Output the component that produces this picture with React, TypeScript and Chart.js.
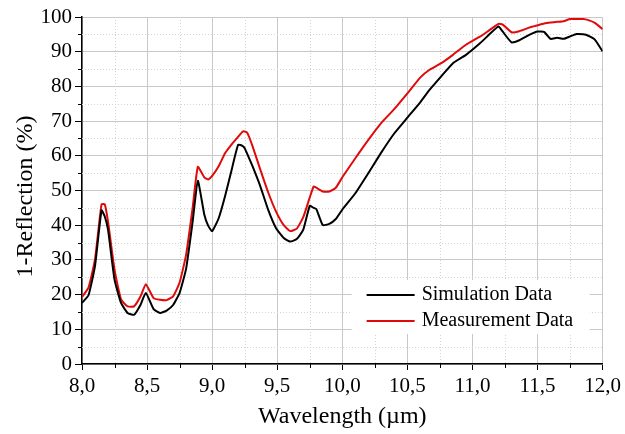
import React, { useEffect, useRef } from "react";
import { Chart, registerables } from "chart.js";

Chart.register(...registerables);

const wavelength = [
  8.0, 8.05, 8.1, 8.15, 8.175, 8.2, 8.25, 8.3, 8.35, 8.4, 8.45, 8.49, 8.55, 8.6, 8.65, 8.7, 8.75, 8.8, 8.85,
  8.89, 8.94, 8.97, 9.0, 9.05, 9.1, 9.15, 9.2, 9.235, 9.25, 9.27, 9.31, 9.37, 9.43, 9.49, 9.55, 9.6, 9.65,
  9.7, 9.75, 9.78, 9.8, 9.85, 9.9, 9.95, 10.0, 10.1, 10.2, 10.3, 10.4, 10.5, 10.6, 10.67, 10.76, 10.85,
  10.95, 11.06, 11.13, 11.2, 11.23, 11.3, 11.36, 11.44, 11.5, 11.55, 11.6, 11.65, 11.7, 11.75, 11.8, 11.85,
  11.89, 11.94, 12.0,
];

const simulation = [
  17.6, 19.8, 28.3, 44.3, 42.5, 38.7, 24.3, 17.6, 14.7, 14.2, 17.1, 20.5, 15.8, 14.7, 15.4, 17.0, 20.5, 27.5, 41.0,
  52.8, 43.0, 39.8, 38.3, 42.0, 48.5, 56.0, 63.2, 62.8, 62.2, 60.5, 57.0, 51.2, 44.5, 39.2, 36.3, 35.3, 36.0,
  38.7, 45.6, 45.0, 44.7, 40.0, 40.4, 41.8, 44.5, 49.2, 55.0, 61.0, 66.5, 71.0, 75.5, 79.0, 82.9, 86.7,
  89.1, 92.5, 95.0, 97.3, 95.9, 92.7, 93.3, 94.9, 95.8, 95.7, 93.7, 94.0, 93.7, 94.4, 95.1, 95.0,
  94.6, 93.5, 90.1,
];

const measurement = [
  19.3, 22.0, 30.2, 46.0, 46.0, 41.0, 27.2, 18.6, 16.6, 16.6, 19.5, 23.0, 19.0, 18.5, 18.4, 19.5, 23.5, 31.5, 45.0,
  56.8, 53.8, 53.2, 54.2, 57.0, 60.8, 63.3, 65.5, 67.0, 67.0, 66.6, 62.8, 56.0, 49.5, 44.0, 40.0, 38.3, 39.0,
  42.3, 48.0, 51.2, 50.8, 49.7, 49.7, 50.8, 53.8, 59.3, 64.6, 69.5, 73.5, 78.0, 82.6, 84.8, 86.7, 89.1,
  92.0, 94.4, 96.2, 98.0, 97.9, 95.6, 95.9, 97.0, 97.6, 98.1, 98.4, 98.6, 98.8, 99.4, 99.4, 99.4,
  99.1, 98.3, 96.5,
];

const seriesNames = ["Simulation Data", "Measurement Data"];
const seriesColors = ["#000000", "#e00a0a"];

const xMajorTicks = [8.0, 8.5, 9.0, 9.5, 10.0, 10.5, 11.0, 11.5, 12.0];
const xMinorTicks = [8.25, 8.75, 9.25, 9.75, 10.25, 10.75, 11.25, 11.75];
const yMinorTicks = [5, 15, 25, 35, 45, 55, 65, 75, 85, 95];

const FONT = "'Liberation Serif', 'Times New Roman', serif";

const minorPlugin = {
  id: "minorGrid",
  beforeDatasetsDraw(chart: any) {
    const { ctx, chartArea, scales } = chart;
    const xs = scales.x;
    const ys = scales.y;
    ctx.save();
    ctx.strokeStyle = "#d4d4d4";
    ctx.lineWidth = 1;
    ctx.setLineDash([1, 2]);
    for (const v of xMinorTicks) {
      const px = Math.round(xs.getPixelForValue(v)) + 0.5;
      ctx.beginPath();
      ctx.moveTo(px, chartArea.top);
      ctx.lineTo(px, chartArea.bottom);
      ctx.stroke();
    }
    for (const v of yMinorTicks) {
      const py = Math.round(ys.getPixelForValue(v)) + 0.5;
      ctx.beginPath();
      ctx.moveTo(chartArea.left, py);
      ctx.lineTo(chartArea.right, py);
      ctx.stroke();
    }
    ctx.setLineDash([]);
    ctx.strokeStyle = "#000";
    ctx.lineWidth = 1;
    for (const v of xMinorTicks) {
      const px = Math.round(xs.getPixelForValue(v)) + 0.5;
      ctx.beginPath();
      ctx.moveTo(px, chartArea.bottom);
      ctx.lineTo(px, chartArea.bottom + 4);
      ctx.stroke();
    }
    for (const v of yMinorTicks) {
      const py = Math.round(ys.getPixelForValue(v)) + 0.5;
      ctx.beginPath();
      ctx.moveTo(chartArea.left, py);
      ctx.lineTo(chartArea.left - 4, py);
      ctx.stroke();
    }
    ctx.restore();
  },
  afterDatasetsDraw(chart: any) {
    const { ctx, chartArea } = chart;
    const boxRight = chartArea.right - 13;
    const boxLeft = boxRight - 238;
    const boxBottom = chartArea.bottom - 30;
    const boxTop = boxBottom - 54;
    ctx.save();
    ctx.fillStyle = "#ffffff";
    ctx.fillRect(boxLeft, boxTop, boxRight - boxLeft, boxBottom - boxTop);
    ctx.font = `20px ${FONT}`;
    ctx.textBaseline = "middle";
    ctx.textAlign = "left";
    seriesNames.forEach((name, i) => {
      const y = boxTop + 15 + i * 26;
      ctx.strokeStyle = seriesColors[i];
      ctx.lineWidth = 2;
      ctx.beginPath();
      ctx.moveTo(boxLeft + 15, y);
      ctx.lineTo(boxLeft + 63, y);
      ctx.stroke();
      ctx.fillStyle = "#000";
      ctx.fillText(name, boxLeft + 70, y);
    });
    ctx.restore();
  },
};

export default function App() {
  const canvasRef = useRef<HTMLCanvasElement | null>(null);

  useEffect(() => {
    const canvas = canvasRef.current;
    if (!canvas) return;
    const datasets = [simulation, measurement].map((vals, i) => ({
      label: seriesNames[i],
      data: wavelength.map((x, j) => ({ x, y: vals[j] })),
      borderColor: seriesColors[i],
      backgroundColor: seriesColors[i],
      borderWidth: 2,
      pointRadius: 0,
      tension: 0.15,
      fill: false,
    }));
    const chart = new Chart(canvas, {
      type: "line",
      data: { datasets },
      options: {
        animation: false,
        responsive: false,
        layout: { padding: { top: 17, right: 22, left: 0, bottom: 0 } },
        plugins: { legend: { display: false }, tooltip: { enabled: false } },
        scales: {
          x: {
            type: "linear",
            min: 8,
            max: 12,
            afterBuildTicks: (scale: any) => {
              scale.ticks = xMajorTicks.map((v) => ({ value: v }));
            },
            afterFit: (scale: any) => {
              scale.height = 70;
            },
            ticks: {
              color: "#000",
              font: { family: FONT, size: 21 },
              padding: 4,
              maxRotation: 0,
              callback: (v: any) => Number(v).toFixed(1).replace(".", ","),
            },
            grid: { color: "#c8c8c8", lineWidth: 1, tickColor: "#000", tickLength: 6 },
            border: { color: "#000", width: 1.5 },
            title: {
              display: true,
              text: "Wavelength (µm)",
              color: "#000",
              font: { family: FONT, size: 24 },
              padding: { top: 0, bottom: 3 },
            },
          },
          y: {
            type: "linear",
            min: 0,
            max: 100,
            afterFit: (scale: any) => {
              scale.width = 82;
            },
            ticks: {
              stepSize: 10,
              color: "#000",
              font: { family: FONT, size: 21 },
              padding: 3,
            },
            grid: { color: "#c8c8c8", lineWidth: 1, tickColor: "#000", tickLength: 7 },
            border: { color: "#000", width: 1.5 },
            title: {
              display: true,
              text: "1-Reflection (%)\u00a0\u00a0",
              color: "#000",
              font: { family: FONT, size: 24 },
              padding: { top: 11, bottom: 0 },
            },
          },
        },
      },
      plugins: [minorPlugin],
    } as any);
    return () => chart.destroy();
  }, []);

  return (
    <div style={{ position: "absolute", left: 0, top: 0, width: 625, height: 434, background: "#fff" }}>
      <canvas ref={canvasRef} width={625} height={434} />
    </div>
  );
}
